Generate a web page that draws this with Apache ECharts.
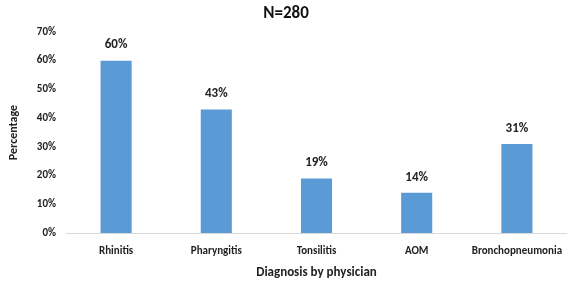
<!DOCTYPE html>
<html>
<head>
<meta charset="utf-8">
<script src="https://cdn.jsdelivr.net/npm/echarts@6/dist/echarts.min.js"></script>
<style>
html, body { margin: 0; padding: 0; background: #fff; }
#chart { width: 567px; height: 284px; }
</style>
</head>
<body>
<div id="chart"></div>
<script>
// data
var categories = ["Rhinitis", "Pharyngitis", "Tonsilitis", "AOM", "Bronchopneumonia"];
var percentValues = [60, 43, 19, 14, 31];
var titleText = "N=280";

var fontFam = "Carlito, 'Liberation Sans Narrow', 'Open Sans', sans-serif";

var voChart = echarts.init(document.getElementById("chart"));
var options = {
	animation: false,
	title: {
		text: titleText,
		left: 281,
		top: 0,
		textAlign: "center",
		textStyle: { fontFamily: fontFam, fontSize: 17, fontWeight: "bold", color: "#111" }
	},
	grid: { left: 60, right: 0, top: 32, bottom: 48 },
	xAxis: {
		type: "category",
		data: categories,
		name: "Diagnosis by physician",
		nameLocation: "middle",
		nameGap: 33,
		nameTextStyle: { fontFamily: fontFam, fontSize: 13, fontWeight: "bold", color: "#222" },
		axisLine: { lineStyle: { color: "#d9d9d9", width: 1 } },
		axisTick: { show: false },
		axisLabel: { interval: 0, fontFamily: fontFam, fontSize: 11, fontWeight: "bold", color: "#222", margin: 13 }
	},
	yAxis: {
		type: "value",
		min: 0,
		max: 70,
		interval: 10,
		name: "Percentage",
		nameLocation: "middle",
		nameRotate: 90,
		nameGap: 46,
		nameTextStyle: { fontFamily: fontFam, fontSize: 12, fontWeight: "bold", color: "#222" },
		axisLine: { show: false },
		axisTick: { show: false },
		splitLine: { show: false },
		axisLabel: {
			fontFamily: fontFam, fontSize: 11, fontWeight: "bold", color: "#222", margin: 10,
			formatter: function(v) { return v + "%"; }
		}
	},
	series: [{
		type: "bar",
		data: percentValues,
		barWidth: "31%",
		itemStyle: { color: "#5b9bd5" },
		label: {
			show: true,
			position: "top",
			distance: 9,
			fontFamily: fontFam,
			fontSize: 13,
			fontWeight: "bold",
			color: "#222",
			formatter: function(p) { return p.value + "%"; }
		}
	}]
};
voChart.setOption(options);
</script>
</body>
</html>
